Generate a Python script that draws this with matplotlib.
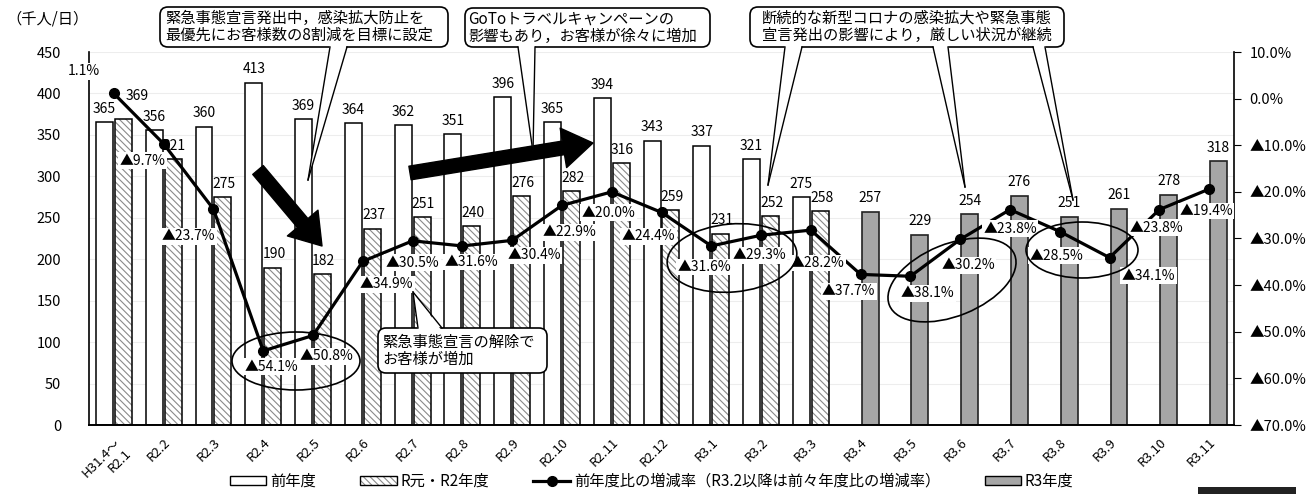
"""Monthly passengers (thousand/day) with year-on-year change rate line."""

import matplotlib

matplotlib.use("Agg")
import matplotlib.pyplot as plt
import numpy as np
from matplotlib.lines import Line2D
from matplotlib.patches import (Ellipse, FancyArrowPatch, FancyBboxPatch,
                                Patch, Polygon, Rectangle)
from matplotlib.transforms import IdentityTransform

plt.rcParams["font.family"] = ["Noto Sans CJK JP", "DejaVu Sans"]
plt.rcParams["hatch.linewidth"] = 0.8

# ---- data -------------------------------------------------------------
categories = ["H31.4〜\nR2.1", "R2.2", "R2.3", "R2.4", "R2.5", "R2.6", "R2.7",
              "R2.8", "R2.9", "R2.10", "R2.11", "R2.12", "R3.1", "R3.2",
              "R3.3", "R3.4", "R3.5", "R3.6", "R3.7", "R3.8", "R3.9",
              "R3.10", "R3.11"]
prev_year = [365, 356, 360, 413, 369, 364, 362, 351, 396, 365, 394, 343,
             337, 321, 275]
r2_year = [369, 321, 275, 190, 182, 237, 251, 240, 276, 282, 316, 259,
           231, 252, 258]
r3_year = [257, 229, 254, 276, 251, 261, 278, 318]
change_rate = [1.1, -9.7, -23.7, -54.1, -50.8, -34.9, -30.5, -31.6, -30.4,
               -22.9, -20.0, -24.4, -31.6, -29.3, -28.2, -37.7, -38.1,
               -30.2, -23.8, -28.5, -34.1, -23.8, -19.4]

legend_labels = ["前年度", "R元・R2年度",
                 "前年度比の増減率（R3.2以降は前々年度比の増減率）", "R3年度"]
notes = [
    "緊急事態宣言発出中，感染拡大防止を\n最優先にお客様数の8割減を目標に設定",
    "GoToトラベルキャンペーンの\n影響もあり，お客様が徐々に増加",
    "断続的な新型コロナの感染拡大や緊急事態\n宣言発出の影響により，厳しい状況が継続",
    "緊急事態宣言の解除で\nお客様が増加",
]

# label offsets for the rate labels (pixels: right, down)
rate_offsets = [(-30, -22), (-21, 17), (-25, 27), (8, 16), (13, 21), (24, 23),
                (0, 22), (9, 16), (22, 15), (8, 27), (-3, 21), (-13, 24),
                (-7, 21), (-2, 20), (7, 33), (-12, 17), (17, 17), (8, 26),
                (0, 19), (-3, 24), (39, 18), (-3, 18), (-3, 22)]

W, H = 1311, 494
ident = IdentityTransform()


def px(x, y):
    """Top-origin pixel -> display coords."""
    return (x, H - y)


def pct(v):
    return f"▲{abs(v):.1f}%" if v < 0 else f"{v:.1f}%"


fig = plt.figure(figsize=(W / 100, H / 100), dpi=100)
ax = fig.add_axes([89 / W, (H - 425) / H, (1234 - 89) / W, (425 - 52) / H])

x = np.arange(len(categories))
n_old = len(prev_year)
bw, off = 0.34, 0.19

ax.bar(x[:n_old] - off, prev_year, bw, color="white", edgecolor="black",
       lw=1.1, zorder=2)
ax.bar(x[:n_old] + off, r2_year, bw, color="white", edgecolor="#8a8a8a",
       hatch="\\\\\\\\\\", lw=0, zorder=2)
ax.bar(x[:n_old] + off, r2_year, bw, fill=False, edgecolor="black",
       lw=1.1, zorder=2)
ax.bar(x[n_old:] + off, r3_year, bw, color="#a6a6a6", edgecolor="#222222",
       lw=1.2, zorder=2)

# bar value labels
for xi, v in zip(x[:n_old] - off, prev_year):
    ax.annotate(str(v), (xi, v), xytext=(0, 9.5), textcoords="offset points",
                ha="center", va="center", fontsize=10, zorder=3)
for i, (xi, v) in enumerate(zip(x[:n_old] + off, r2_year)):
    dx, dy = (10, 17) if i == 0 else (1, 9.5)
    ax.annotate(str(v), (xi, v), xytext=(dx, dy), textcoords="offset points",
                ha="center", va="center", fontsize=10, zorder=3)
for xi, v in zip(x[n_old:] + off, r3_year):
    ax.annotate(str(v), (xi, v), xytext=(0, 10), textcoords="offset points",
                ha="center", va="center", fontsize=10, zorder=3)

ax.set_xlim(-0.5, len(categories) - 0.5)
ax.set_ylim(0, 450)
ax.set_yticks(np.arange(0, 451, 50))
ax.set_xticks(x)
ax.set_xticklabels(categories, rotation=45, ha="right",
                   rotation_mode="anchor", fontsize=9.5)
ax.tick_params(axis="x", length=0, pad=8)
ax.tick_params(axis="y", length=0, pad=20, labelsize=10.5)
ax.grid(axis="y", color="#ededed", lw=0.8, zorder=0)
ax.set_axisbelow(True)
for side in ("top", "right"):
    ax.spines[side].set_visible(False)
ax.spines["left"].set_linewidth(1.2)
ax.spines["bottom"].set_linewidth(1.4)

# change rate on the secondary axis
ax2 = ax.twinx()
ax2.plot(x, change_rate, color="black", lw=2.3, marker="o", ms=7, zorder=5)
ax2.set_ylim(-70, 10)
ticks = np.arange(-70, 11, 10)
ax2.set_yticks(ticks)
ax2.set_yticklabels([pct(t) if t != 0 else "0.0%" for t in ticks],
                    fontsize=10.5)
ax2.tick_params(axis="y", direction="out", length=5, pad=6)
for side in ("top", "left", "bottom"):
    ax2.spines[side].set_visible(False)
ax2.spines["right"].set_linewidth(1.2)

for xi, v, (dx, dy) in zip(x, change_rate, rate_offsets):
    ax2.annotate(pct(v), (xi, v), xytext=(dx * 0.72, -dy * 0.72),
                 textcoords="offset points", ha="center", va="center",
                 fontsize=10, zorder=6,
                 bbox=dict(boxstyle="square,pad=0.1", fc="white", ec="none"))

# ---- annotations (figure pixel coordinates) -------------------------------
fig.text(6 / W, 1 - 19 / H, "（千人/日）", ha="left", va="center", fontsize=11)


def callout(x0, y0, x1, y1, text, wedges, pad=5, fs=11, from_top=False):
    box = FancyBboxPatch(px(x0, y1), x1 - x0, y1 - y0,
                         boxstyle="round,pad=0,rounding_size=8", fc="white",
                         ec="black", lw=1.2, transform=ident, zorder=6)
    fig.add_artist(box)
    base, inner = (y0, y0 + 3) if from_top else (y1, y1 - 3)
    for bl, br, tip in wedges:
        fig.add_artist(Polygon([px(bl, inner), px(*tip), px(br, inner)],
                               closed=True, fc="white", ec="none",
                               transform=ident, zorder=7))
        for bx in (bl, br):
            fig.add_artist(Line2D([bx, tip[0]], [H - base, H - tip[1]],
                                  color="black", lw=1.0, transform=ident,
                                  zorder=7))
    fig.text((x0 + pad) / W, 1 - (y0 + y1) / 2 / H, text, ha="left",
             va="center", fontsize=fs, linespacing=1.0, zorder=8)


callout(160, 7, 448, 47, notes[0], [(330, 347, (308, 180))], pad=5)
callout(465, 8, 710, 47, notes[1], [(518, 535, (533, 152))], pad=3)
callout(750, 7, 1064, 47, notes[2],
        [(785, 802, (768, 185)), (933, 948, (965, 187)),
         (1033, 1045, (1073, 200))], pad=12)
callout(378, 328, 547, 373, notes[3], [(418, 442, (413, 292))], pad=4,
        from_top=True)

for cx, cy, w, h, ang in [(296, 361, 128, 58, 0), (732, 258, 130, 68, 5),
                          (952, 280, 135, 72, 22), (1082, 250, 112, 56, 0)]:
    fig.add_artist(Ellipse(px(cx, cy), w, h, angle=ang, fill=False,
                           ec="black", lw=1.2, transform=ident, zorder=5))

for a, b in [((258, 170), (322, 246)), ((410, 173), (593, 143))]:
    fig.add_artist(FancyArrowPatch(
        px(*a), px(*b), transform=ident, shrinkA=0, shrinkB=0,
        arrowstyle="simple,head_length=1.2,head_width=1.6,tail_width=0.55",
        mutation_scale=18, fc="black", ec="black", zorder=5))

fig.add_artist(Rectangle(px(1198, 494), 98, 7, fc="#222222", ec="none",
                         transform=ident, zorder=5))

# legend
handles = [
    Patch(fc="white", ec="black", lw=1.0),
    (Patch(fc="white", ec="#8a8a8a", hatch="\\\\\\\\\\", lw=0),
     Patch(fill=False, ec="black", lw=1.0)),
    Line2D([], [], color="black", lw=2.3, marker="o", ms=7),
    Patch(fc="#a6a6a6", ec="black", lw=1.0),
]
fig.legend(handles, legend_labels, loc="center", ncol=4, frameon=False,
           bbox_to_anchor=(0.497, 0.026), fontsize=11, handlelength=2.4,
           handleheight=0.55, handletextpad=0.25, columnspacing=2.9)

fig.savefig("out.png", dpi=100)
